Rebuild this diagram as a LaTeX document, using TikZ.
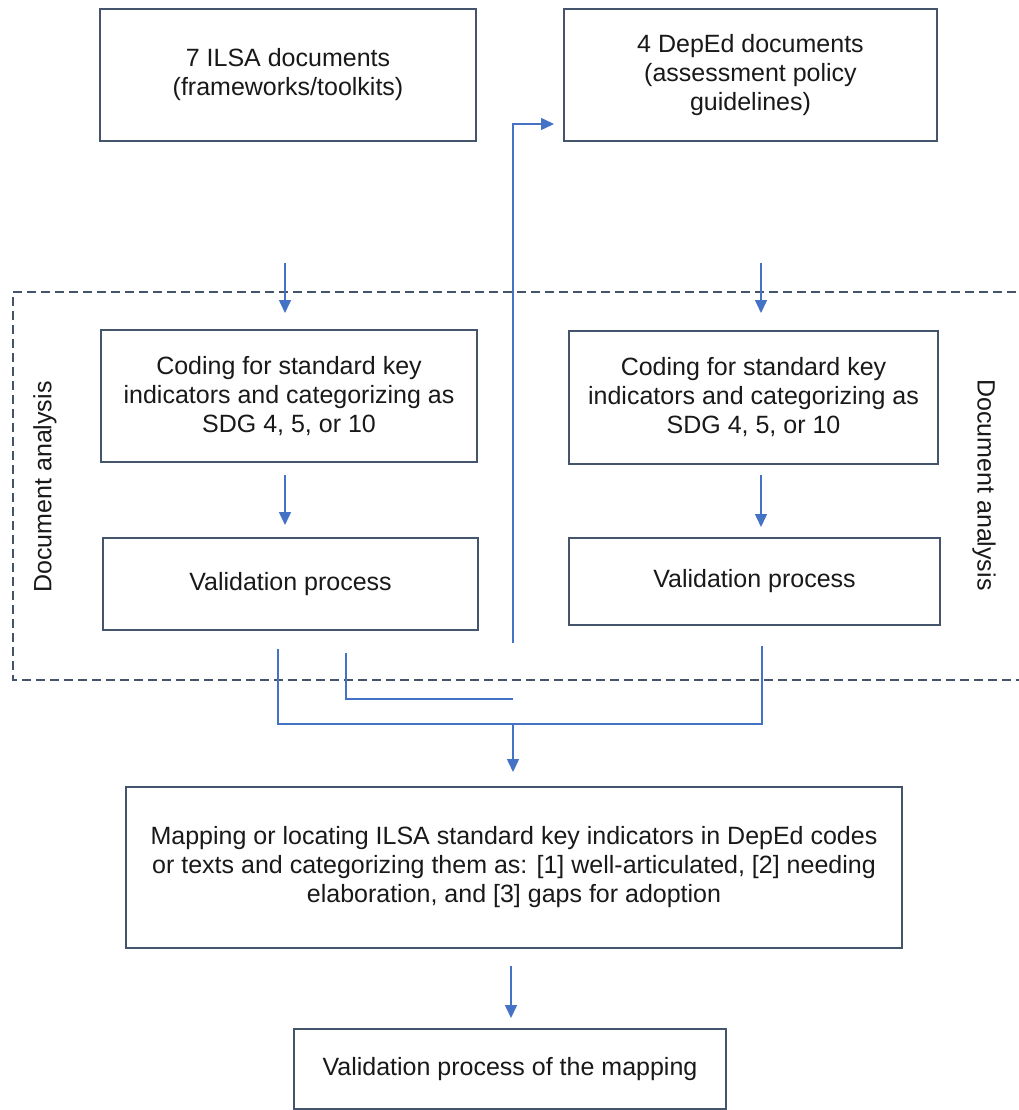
\documentclass[tikz,border=0pt]{standalone}
\usepackage{fontspec}
\setmainfont{Liberation Sans}
\usetikzlibrary{arrows.meta}
\definecolor{boxline}{HTML}{44546A}
\definecolor{arrblue}{HTML}{4472C4}
\begin{document}
\begin{tikzpicture}[x=1pt,y=-1pt,
  box/.style={draw=boxline, line width=1.5pt, align=center, inner sep=0pt,
    font=\fontsize{25pt}{29pt}\selectfont, text=black!90},
  conn/.style={draw=arrblue, line width=1.5pt},
  arr/.style={conn, -{Triangle[length=13pt,width=12pt]}},
  frameline/.style={draw=boxline, line width=1.8pt, dash pattern=on 9pt off 5pt},
  lbl/.style={font=\fontsize{25pt}{29pt}\selectfont, text=black!90}]
\useasboundingbox[fill=white] (0,0) rectangle (1018,1110);

% dashed frame
\draw[frameline] (1030,292) -- (13,292) -- (13,680) -- (1030,680);
\node[lbl, rotate=90] (dal) at (45,487) {Document analysis};
\node[lbl, rotate=-90] (dar) at (984,485) {Document analysis};

% boxes
\node[box, minimum width=376pt, minimum height=132pt] (ilsa) at (288,75)
  {7 ILSA documents\\(frameworks/toolkits)};
\node[box, minimum width=373pt, minimum height=132pt] (deped) at (750.5,75)
  {4 DepEd documents\\(assessment policy\\guidelines)};
\node[box, minimum width=376pt, minimum height=132pt] (codeL) at (289,396)
  {Coding for standard key\\indicators and categorizing as\\SDG 4, 5, or 10};
\node[box, minimum width=369pt, minimum height=133pt] (codeR) at (753.5,397.5)
  {Coding for standard key\\indicators and categorizing as\\SDG 4, 5, or 10};
\node[box, minimum width=375pt, minimum height=92pt] (valL) at (290.5,584)
  {Validation process};
\node[box, minimum width=371pt, minimum height=87pt] (valR) at (754.5,581.5)
  {Validation process};
\node[box, minimum width=776pt, minimum height=161pt] (map) at (514,867.5)
  {Mapping or locating ILSA standard key indicators in DepEd codes\\
   or texts and categorizing them as: [1] well-articulated, [2] needing\\
   elaboration, and [3] gaps for adoption};
\node[box, minimum width=432pt, minimum height=80pt] (fin) at (510,1069)
  {Validation process of the mapping};

% free connector ends
\coordinate (inL1) at (285,263); \coordinate (inL2) at (285,313);
\coordinate (inR1) at (761,263); \coordinate (inR2) at (761,313);
\coordinate (cvL1) at (285,475); \coordinate (cvL2) at (285,525);
\coordinate (cvR1) at (761,475); \coordinate (cvR2) at (761,527);
\coordinate (oL) at (278,649); \coordinate (oL2) at (346,653);
\coordinate (oR) at (762,646);
\coordinate (join) at (513,724); \coordinate (mid) at (513,699);
\coordinate (up) at (513,643); \coordinate (upc) at (513,124);
\coordinate (upe) at (554,124);
\coordinate (toMap) at (513,772);
\coordinate (mf1) at (511,966); \coordinate (mf2) at (511,1018);

% arrows
\draw[arr] (inL1) -- (inL2);
\draw[arr] (inR1) -- (inR2);
\draw[arr] (cvL1) -- (cvL2);
\draw[arr] (cvR1) -- (cvR2);
\draw[conn] (oL) -- (oL |- join) -- (oR |- join) -- (oR);
\draw[conn] (oL2) -- (oL2 |- mid) -- (mid);
\draw[arr] (up) -- (upc) -- (upe);
\draw[arr] (join) -- (toMap);
\draw[arr] (mf1) -- (mf2);
\end{tikzpicture}
\end{document}
